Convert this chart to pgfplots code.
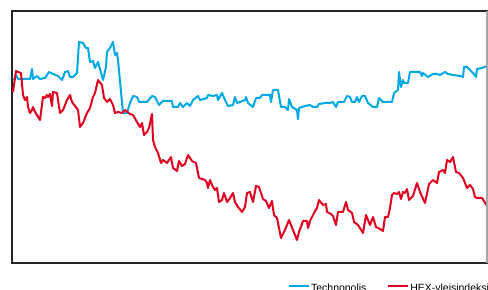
\documentclass[border=0pt]{standalone}
\usepackage{pgfplots}
\pgfplotsset{compat=1.18}
\usepackage{fontspec}
\setmainfont{Liberation Sans}
\definecolor{techblue}{HTML}{00A8E6}
\definecolor{hexred}{HTML}{E0001F}
\begin{document}
\begin{tikzpicture}
\begin{axis}[
  at={(12bp,27bp)}, anchor=south west,
  width=475bp, height=252bp, scale only axis,
  xmin=12, xmax=487, ymin=0, ymax=252,
  xtick=\empty, ytick=\empty,
  axis line style={line width=1.3bp, black!85},
  legend columns=2,
  legend style={at={(axis description cs:0.581,-0.1)}, anchor=west, draw=none, fill=none, inner sep=0pt,
    font=\fontsize{10.5}{12}\selectfont,
    nodes={inner sep=1bp},
    /tikz/every even column/.append style={column sep=20bp}},
  legend image code/.code={\draw[#1] (0bp,2bp) -- (20bp,2bp);},
  legend cell align=left,
  extra description/.code={\draw[line width=1.2bp, black!35] (1,0) -- (1,1);},
]
\addplot[techblue, line width=2bp, line join=round] coordinates {
(14,183) (16,188) (18,184) (25,184) (30,184) (32,194) (33,184) (37,187) (40,184) (45,185)
(49,191) (53,189) (58,187) (62,183) (65,191) (68,192) (70,186) (73,186) (77,190) (79,221)
(83,220) (86,215) (88,215) (90,201) (93,202) (95,195) (98,201) (103,183) (106,196) (107,211)
(110,215) (113,221) (115,208) (117,210) (118,203) (123,150) (127,150) (130,160) (133,167) (137,166)
(139,161) (147,161) (152,167) (155,166) (159,158) (163,162) (172,162) (173,156) (178,156) (180,160)
(183,156) (187,160) (190,157) (193,163) (198,167) (200,163) (207,165) (208,168) (213,167) (217,168)
(218,163) (222,170) (225,163) (228,157) (233,158) (235,166) (237,160) (240,161) (245,163) (246,166)
(248,160) (253,156) (256,165) (260,165) (262,168) (270,168) (271,161) (273,173) (278,173) (281,156)
(285,156) (288,153) (289,164) (292,156) (297,153) (298,144) (299,155) (305,157) (310,158) (313,156)
(317,156) (319,159) (325,160) (330,160) (333,161) (336,156) (338,161) (344,161) (347,167) (350,166)
(352,161) (355,161) (357,166) (359,161) (362,167) (365,167) (368,160) (373,156) (377,156) (379,165)
(383,161) (392,161) (394,170) (398,173) (399,191) (401,176) (403,183) (404,180) (408,180) (410,191)
(420,191) (422,187) (423,190) (428,186) (433,189) (437,189) (440,188) (445,191) (448,189) (453,188)
(460,187) (463,186) (464,196) (467,196) (470,193) (473,190) (476,186) (477,194) (482,195) (487,197)
};
\addlegendentry{Technopolis}
\addplot[hexred, line width=2bp, line join=round] coordinates {
(13,171) (16,192) (18,191) (21,190) (23,168) (25,163) (27,166) (28,156) (30,150) (32,153)
(33,156) (35,151) (37,148) (40,143) (43,166) (45,165) (47,168) (48,166) (50,169) (52,157)
(53,171) (57,170) (60,150) (63,153) (67,163) (70,168) (72,161) (75,157) (78,153) (80,136)
(83,140) (87,150) (90,155) (93,166) (95,170) (98,183) (102,178) (104,165) (107,161) (110,164)
(113,158) (115,150) (118,151) (122,150) (125,153) (130,149) (133,148) (137,141) (140,136) (142,140)
(144,128) (147,131) (149,135) (152,149) (153,123) (155,116) (158,110) (161,100) (163,103) (167,100)
(171,106) (173,95) (177,92) (179,102) (182,97) (185,99) (188,108) (192,102) (196,100) (199,85)
(205,83) (207,80) (208,75) (210,83) (213,76) (215,73) (217,75) (219,61) (222,63) (224,70)
(227,61) (230,65) (233,70) (235,61) (238,56) (242,51) (245,56) (247,70) (250,71) (253,61)
(256,77) (259,76) (263,64) (266,62) (269,55) (272,62) (274,48) (277,45) (281,25) (285,33)
(289,43) (293,33) (297,23) (299,31) (303,42) (307,42) (308,35) (310,42) (314,50) (317,55)
(319,63) (323,58) (326,59) (327,51) (331,49) (333,47) (336,38) (338,51) (343,51) (346,61)
(348,53) (352,50) (354,41) (358,38) (363,30) (366,48) (370,38) (373,46) (376,36) (380,34)
(383,32) (385,46) (388,46) (390,55) (392,68) (394,70) (397,69) (399,71) (401,64) (403,71)
(405,70) (407,74) (409,63) (413,67) (417,80) (420,71) (425,60) (429,79) (433,83) (437,80)
(439,91) (443,93) (445,90) (447,103) (450,101) (453,106) (456,91) (459,90) (463,85) (467,75)
(470,78) (473,74) (475,66) (477,65) (482,65) (487,57)
};
\addlegendentry{HEX-yleisindeksi}
\end{axis}
\pgfresetboundingbox
\path[use as bounding box] (0,0) rectangle (488bp,290bp);
\end{tikzpicture}
\end{document}
